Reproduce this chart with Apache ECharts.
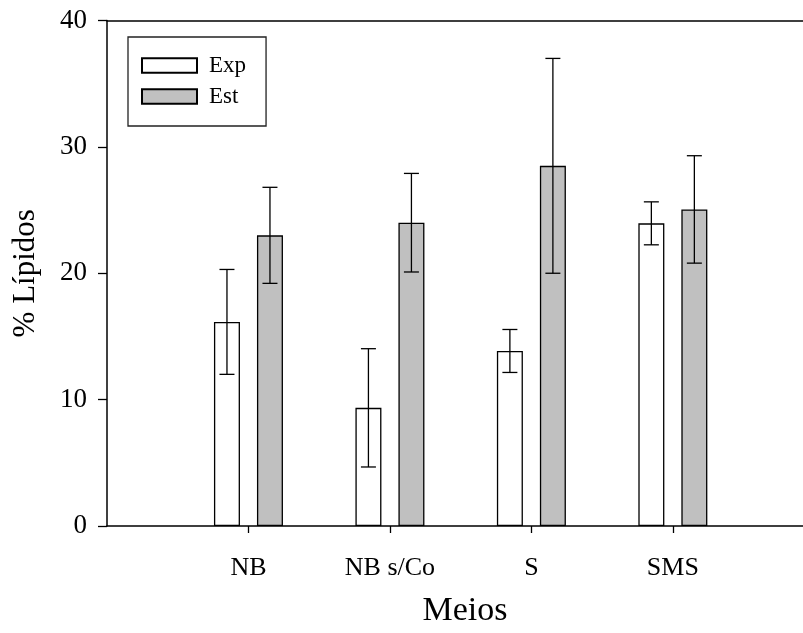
<!DOCTYPE html>
<html>
<head>
<meta charset="utf-8">
<script src="https://cdn.jsdelivr.net/npm/echarts@6/dist/echarts.min.js"></script>
<style>html,body{margin:0;padding:0;background:#fff}#c{width:803px;height:633px}</style>
</head>
<body>
<div id="c"></div>
<script>
var categories = ['NB', 'NB s/Co', 'S', 'SMS'];
var categoryPositions = [1, 2, 3, 4];
var expMean = [16.15, 9.35, 13.85, 23.95];
var expErr = [4.15, 4.68, 1.7, 1.7];
var estMean = [23.0, 24.0, 28.5, 25.05];
var estErr = [3.8, 3.9, 8.5, 4.25];
var yTicks = [0, 10, 20, 30, 40];

var FONT = '"Liberation Serif", "Times New Roman", serif';
var BAR_W = 26, BAR_GAP_PX = 17, CAP = 7.5;
var X_MAX = 4.92;

function barData(means) {
  return means.map(function (v, i) { return [categoryPositions[i], v]; });
}
function errData(means, errs) {
  return means.map(function (v, i) { return [categoryPositions[i], v, errs[i]]; });
}
function errRender(sign) {
  return function (params, api) {
    var x = api.value(0), m = api.value(1), e = api.value(2);
    var off = sign * (BAR_W + BAR_GAP_PX) / 2;
    var top = api.coord([x, m + e]);
    var bot = api.coord([x, m - e]);
    var cx = top[0] + off;
    var st = { stroke: '#000', lineWidth: 1.3 };
    return {
      type: 'group',
      children: [
        { type: 'line', shape: { x1: cx, y1: top[1], x2: cx, y2: bot[1] }, style: st },
        { type: 'line', shape: { x1: cx - CAP, y1: top[1], x2: cx + CAP, y2: top[1] }, style: st },
        { type: 'line', shape: { x1: cx - CAP, y1: bot[1], x2: cx + CAP, y2: bot[1] }, style: st }
      ]
    };
  };
}

var chart = echarts.init(document.getElementById('c'));
chart.setOption({
  animation: false,
  backgroundColor: '#fff',
  grid: { left: 107, right: 0, top: 20.5, bottom: 101.5, containLabel: false },
  legend: {
    orient: 'vertical',
    left: 128, top: 37,
    data: ['Exp', 'Est'],
    icon: 'rect',
    itemWidth: 55, itemHeight: 14.5, itemGap: 8,
    padding: [17, 20, 18, 13],
    borderColor: '#222', borderWidth: 1.3,
    backgroundColor: '#fff',
    textStyle: { fontFamily: FONT, fontSize: 23, color: '#000', padding: [0, 0, 0, 7] }
  },
  xAxis: [{
    type: 'value', min: 0, max: X_MAX,
    name: 'Meios', nameLocation: 'middle', nameGap: 68,
    nameTextStyle: { fontFamily: FONT, fontSize: 34, color: '#000', padding: [0, 0, 0, 20] },
    axisLine: { show: true, onZero: false, lineStyle: { color: '#000', width: 1.5 } },
    axisTick: { show: true, inside: false, length: 7, customValues: categoryPositions, lineStyle: { color: '#000', width: 1.3 } },
    axisLabel: {
      customValues: categoryPositions, margin: 29,
      fontFamily: FONT, fontSize: 26, color: '#000',
      formatter: function (v) { var i = categoryPositions.indexOf(v); return i >= 0 ? categories[i] : ''; }
    },
    splitLine: { show: false }
  }, {
    type: 'value', min: 0, max: X_MAX, position: 'top',
    axisLine: { show: true, onZero: false, lineStyle: { color: '#000', width: 1.5 } },
    axisTick: { show: false }, axisLabel: { show: false }, splitLine: { show: false }
  }],
  yAxis: {
    type: 'value', min: 0, max: 40, interval: 10,
    name: '% Lípidos', nameLocation: 'middle', nameGap: 66,
    nameTextStyle: { fontFamily: FONT, fontSize: 31, color: '#000' },
    axisLine: { show: true, lineStyle: { color: '#000', width: 1.5 } },
    axisTick: { show: true, inside: false, length: 9, lineStyle: { color: '#000', width: 1.3 } },
    axisLabel: {
      margin: 20, fontFamily: FONT, fontSize: 27, color: '#000',
      customValues: yTicks,
      formatter: function (v) { return String(v); }
    },
    splitLine: { show: false }
  },
  series: [{
    name: 'Exp', type: 'bar', xAxisIndex: 0,
    data: barData(expMean),
    barWidth: BAR_W, barGap: (BAR_GAP_PX / BAR_W * 100) + '%',
    itemStyle: { color: '#fff', borderColor: '#000', borderWidth: 1.3 },
    z: 2
  }, {
    name: 'Est', type: 'bar', xAxisIndex: 0,
    data: barData(estMean),
    barWidth: BAR_W,
    itemStyle: { color: '#c0c0c0', borderColor: '#000', borderWidth: 1.3 },
    z: 2
  }, {
    type: 'custom', xAxisIndex: 0, renderItem: errRender(-1),
    data: errData(expMean, expErr), z: 5, silent: true
  }, {
    type: 'custom', xAxisIndex: 0, renderItem: errRender(1),
    data: errData(estMean, estErr), z: 5, silent: true
  }]
});
</script>
</body>
</html>
